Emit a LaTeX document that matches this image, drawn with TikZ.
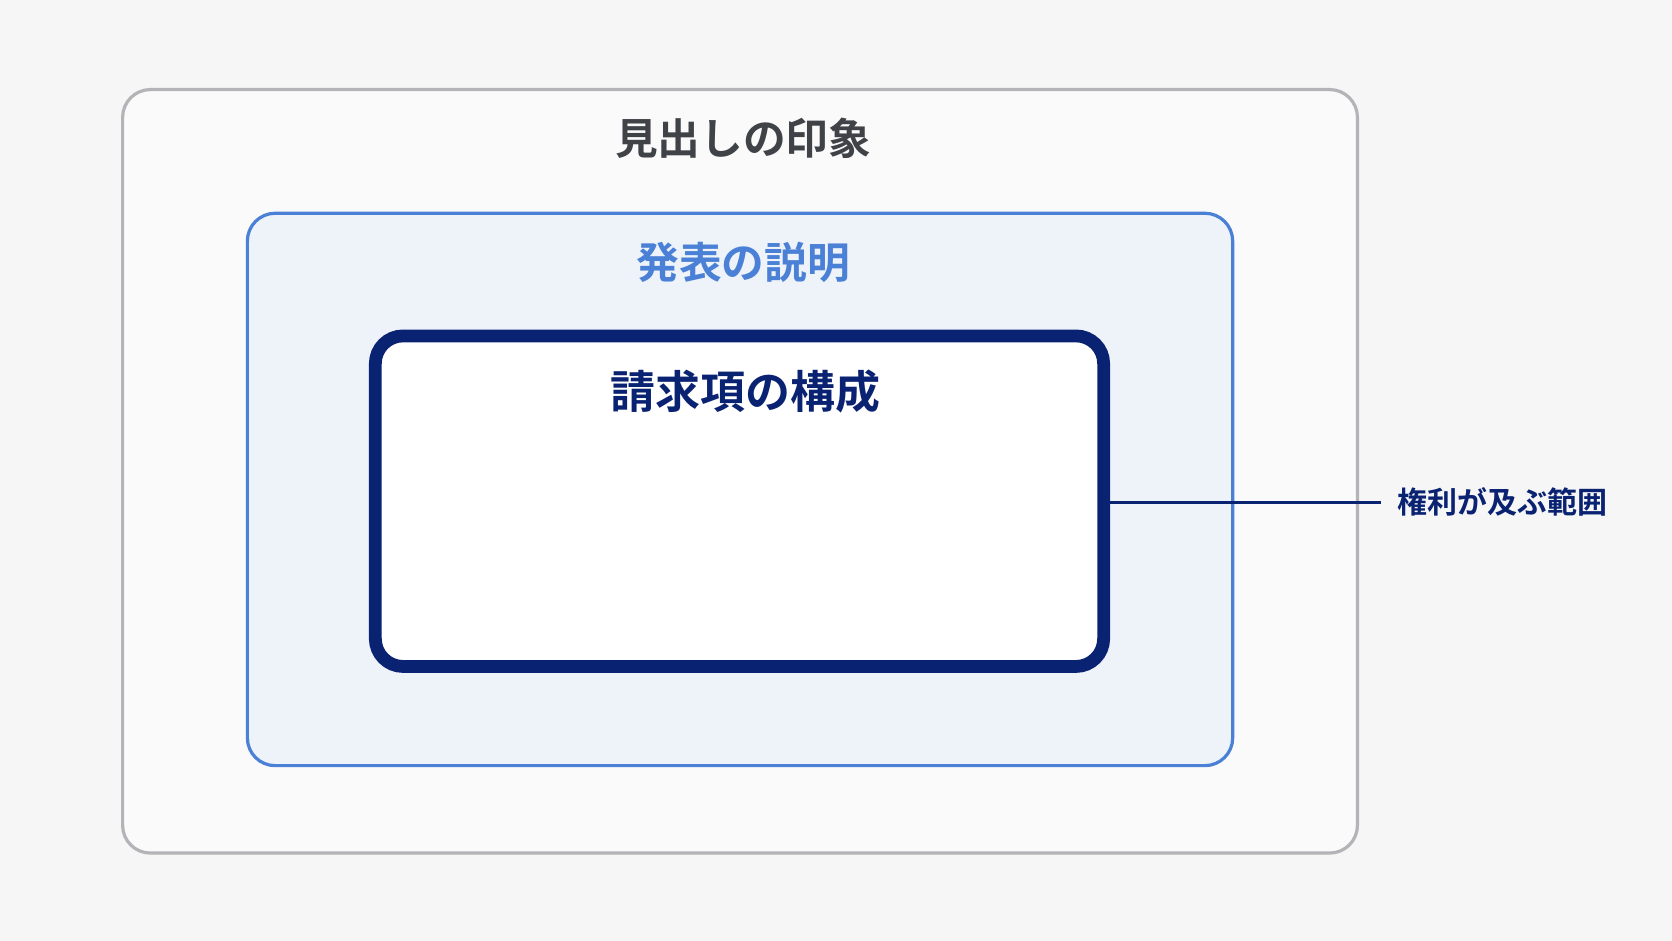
\documentclass[tikz,border=0pt]{standalone}
\usepackage{fontspec}
\newfontfamily\jp{Noto Sans CJK JP}[BoldFont={Noto Sans CJK JP Bold}]
\begin{document}
\begin{tikzpicture}[x=0.1mm,y=-0.1mm,
  ttl/.style={font=\jp\bfseries\fontsize{11.4pt}{13pt}\selectfont,anchor=center}]
\definecolor{bg}{HTML}{F6F6F7}
\definecolor{gr}{HTML}{B4B4B8}
\definecolor{dk}{HTML}{3F4247}
\definecolor{bl}{HTML}{4A80D6}
\definecolor{lb}{HTML}{EEF3FA}
\definecolor{nv}{HTML}{0A2272}
\fill[bg] (0,0) rectangle (1568,882);
\useasboundingbox (0,0) rectangle (1568,882);
\draw[gr,line width=0.3mm,fill=bg!60!white,rounded corners=2.6mm] (115,84) rectangle (1273,800);
\node[ttl,text=dk] (t1) at (697,130) {見出しの印象};
\draw[bl,line width=0.3mm,fill=lb,rounded corners=2.6mm] (232,200) rectangle (1156,718);
\node[ttl,text=bl] (t2) at (697,246) {発表の説明};
\draw[nv,line width=1.2mm,fill=white,rounded corners=2.6mm] (352,315) rectangle (1035,625);
\coordinate (ie) at (1041,471);
\node[ttl,text=nv,font=\jp\bfseries\fontsize{12pt}{14pt}\selectfont] (t3) at (699,367) {請求項の構成};
\node[anchor=west,text=nv,inner sep=0pt,font=\jp\bfseries\fontsize{8pt}{10pt}\selectfont] (lab) at (1310,471) {権利が及ぶ範囲};
\draw[nv,line width=0.25mm] (ie) -- ([xshift=-1.5mm]lab.west);
\end{tikzpicture}
\end{document}
